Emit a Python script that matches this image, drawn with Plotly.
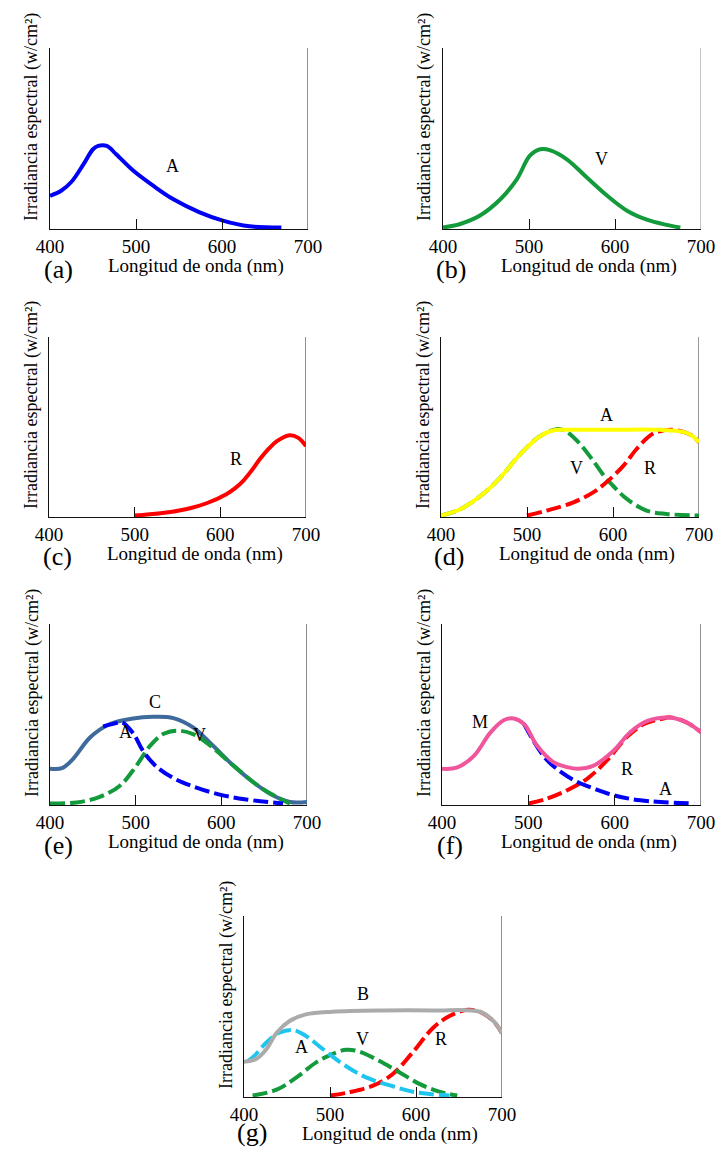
import plotly.graph_objects as go

# The page body has an 8px margin; the figure is sized and positioned so that
# reference pixel coordinates (p) map to figure pixels (p - OFF).
OFF = 8
W, H = 725 - OFF, 1149 - OFF
FONT = "Liberation Serif, Times New Roman, serif"

# ---------------- data (wavelength nm, relative irradiance) ----------------
tick_vals = [400, 500, 600, 700]
tick_text = ["400", "500", "600", "700"]
x_title = "Longitud de onda (nm)"
y_title = "Irradiancia espectral (w/cm²)"
panel_tags = ["(a)", "(b)", "(c)", "(d)", "(e)", "(f)", "(g)"]

# (a) azul
a_A_x = [400, 413, 425, 439, 450, 456, 466, 477, 497, 520, 543, 574, 601, 632, 669]
a_A_y = [0.177, 0.205, 0.255, 0.353, 0.436, 0.455, 0.455, 0.408, 0.316, 0.233, 0.159, 0.085, 0.039, 0.007, 0.0]

# (b) verde
b_V_x = [400, 420, 443, 467, 486, 501, 513, 525, 544, 567, 591, 614, 637, 660, 676]
b_V_y = [0.0, 0.02, 0.067, 0.159, 0.27, 0.40, 0.436, 0.43, 0.38, 0.28, 0.177, 0.094, 0.044, 0.015, 0.0]

# (c) rojo
c_R_x = [500, 530, 561, 584, 607, 617, 627, 637, 646, 656, 666, 681, 691, 700]
c_R_y = [0.0, 0.013, 0.037, 0.069, 0.12, 0.152, 0.196, 0.255, 0.315, 0.372, 0.417, 0.45, 0.435, 0.389]

# (d) amarillo = verde + rojo
d_A_x = [400, 423, 446, 469, 492, 515, 531, 546, 596, 654, 683, 693, 700]
d_A_y = [0.0, 0.037, 0.11, 0.213, 0.343, 0.444, 0.478, 0.48, 0.48, 0.48, 0.467, 0.444, 0.41]
d_V_x = [400, 423, 446, 469, 492, 515, 536, 546, 560, 575, 590, 600, 616, 639, 662, 700]
d_V_y = [0.0, 0.037, 0.11, 0.213, 0.343, 0.444, 0.485, 0.47, 0.41, 0.32, 0.22, 0.167, 0.093, 0.028, 0.009, 0.0]
d_R_x = [500, 523, 554, 577, 592, 612, 627, 643, 654, 670, 683, 693, 700]
d_R_y = [0.0, 0.028, 0.074, 0.13, 0.185, 0.278, 0.37, 0.448, 0.472, 0.48, 0.467, 0.444, 0.41]

# (e) cian = azul + verde
e_C_x = [400, 414, 427, 447, 470, 497, 520, 544, 567, 590, 614, 637, 660, 680, 700]
e_C_y = [0.194, 0.197, 0.249, 0.369, 0.443, 0.474, 0.483, 0.476, 0.424, 0.323, 0.212, 0.12, 0.046, 0.009, 0.009]
e_A_x = [462, 475, 484, 497, 509, 524, 544, 567, 598, 629, 672]
e_A_y = [0.43, 0.445, 0.452, 0.392, 0.29, 0.207, 0.142, 0.096, 0.05, 0.023, 0.0]
e_V_x = [400, 431, 458, 482, 501, 517, 532, 548, 567, 587, 614, 645, 668, 680]
e_V_y = [0.0, 0.006, 0.037, 0.101, 0.212, 0.323, 0.387, 0.406, 0.387, 0.323, 0.212, 0.092, 0.028, 0.0]

# (f) magenta = azul + rojo
f_M_x = [400, 417, 437, 456, 472, 483, 495, 510, 529, 545, 558, 576, 599, 618, 638, 665, 684, 700]
f_M_y = [0.194, 0.2, 0.266, 0.395, 0.465, 0.474, 0.443, 0.323, 0.231, 0.203, 0.194, 0.212, 0.295, 0.397, 0.46, 0.478, 0.45, 0.397]
f_A_x = [495, 510, 522, 538, 557, 576, 599, 630, 692]
f_A_y = [0.443, 0.318, 0.24, 0.175, 0.12, 0.083, 0.046, 0.018, 0.0]
f_R_x = [500, 522, 545, 568, 591, 614, 634, 653, 665, 684, 700]
f_R_y = [0.0, 0.028, 0.074, 0.138, 0.24, 0.37, 0.443, 0.47, 0.48, 0.45, 0.397]

# (g) blanco = azul + verde + rojo
g_B_x = [400, 414, 426, 438, 453, 472, 503, 562, 620, 674, 690, 700]
g_B_y = [0.188, 0.203, 0.258, 0.35, 0.415, 0.452, 0.467, 0.474, 0.474, 0.467, 0.415, 0.347]
g_A_x = [404, 412, 426, 441, 457, 472, 492, 515, 542, 573, 600, 639]
g_A_y = [0.19, 0.221, 0.295, 0.35, 0.365, 0.332, 0.258, 0.175, 0.101, 0.052, 0.018, 0.0]
g_V_x = [410, 438, 461, 484, 507, 519, 534, 557, 581, 604, 627, 648]
g_V_y = [0.0, 0.033, 0.101, 0.185, 0.24, 0.255, 0.245, 0.194, 0.129, 0.065, 0.022, 0.0]
g_R_x = [500, 522, 550, 573, 596, 620, 639, 660, 674, 690, 700]
g_R_y = [0.0, 0.018, 0.055, 0.12, 0.24, 0.378, 0.443, 0.478, 0.467, 0.415, 0.347]

# ---------------- styles ----------------
BLUE = "#0000F5"
GREEN = "#139A3B"
RED = "#FF0000"
YELLOW = "#FFFF00"
STEEL = "#3E6A9C"
PINK = "#F0569C"
CYAN = "#1FC4EF"
GRAY = "#ABABAB"
DASH = "15px,5px"

# panel boxes in reference pixels: left, right, top, bottom(baseline)
boxes = [
    (50, 308, 48, 229),
    (443, 701, 48, 229),
    (49, 306, 337, 517),
    (441, 699, 337, 517),
    (50, 307, 624, 805),
    (442, 701, 624, 805),
    (244, 502, 916, 1097),
]
right_line_colors = ["#222222", "#888888", "#222222", "#333333", "#8A8A8A", "#222222", "#222222"]
right_line_widths = [1, 1, 1, 1, 2, 1, 1]
tag_offsets = [40, 40, 40, 40, 40, 40, 35]

# traces per panel, in drawing order: (x, y, color, dashed)
panel_traces = [
    [(a_A_x, a_A_y, BLUE, False)],
    [(b_V_x, b_V_y, GREEN, False)],
    [(c_R_x, c_R_y, RED, False)],
    [(d_V_x, d_V_y, GREEN, True), (d_R_x, d_R_y, RED, True), (d_A_x, d_A_y, YELLOW, False)],
    [(e_C_x, e_C_y, STEEL, False), (e_V_x, e_V_y, GREEN, True), (e_A_x, e_A_y, BLUE, True)],
    [(f_R_x, f_R_y, RED, True), (f_A_x, f_A_y, BLUE, True), (f_M_x, f_M_y, PINK, False)],
    [(g_R_x, g_R_y, RED, True), (g_V_x, g_V_y, GREEN, True), (g_A_x, g_A_y, CYAN, True), (g_B_x, g_B_y, GRAY, False)],
]

# curve labels per panel: (text, wavelength, value)
panel_labels = [
    [("A", 543, 0.344)],
    [("V", 584, 0.38)],
    [("R", 618, 0.315)],
    [("A", 593, 0.565), ("V", 558, 0.269), ("R", 643, 0.269)],
    [("C", 522, 0.565), ("A", 488, 0.40), ("V", 575, 0.38)],
    [("M", 444, 0.454), ("R", 614, 0.194), ("A", 659, 0.083)],
    [("B", 538, 0.563), ("A", 467, 0.268), ("V", 538, 0.314), ("R", 629, 0.314)],
]

YMIN = -0.008


def fx(p):
    return (p - OFF) / W


def fy(p):
    return 1 - (p - OFF) / H


def paper_note(text, px, py, size, angle=0):
    return dict(
        text=text, x=fx(px), y=fy(py), xref="paper", yref="paper",
        xanchor="center", yanchor="middle", showarrow=False, textangle=angle,
        font=dict(family=FONT, size=size, color="black"),
    )


fig = go.Figure()
layout = dict(
    width=W, height=H, margin=dict(l=0, r=0, t=0, b=0, pad=0), autosize=False,
    paper_bgcolor="white", plot_bgcolor="white", showlegend=False,
    annotations=[], shapes=[],
)

for i, (box, traces, labels) in enumerate(zip(boxes, panel_traces, panel_labels)):
    n = i + 1
    xa = "xaxis" if n == 1 else f"xaxis{n}"
    ya = "yaxis" if n == 1 else f"yaxis{n}"
    xr = "x" if n == 1 else f"x{n}"
    yr = "y" if n == 1 else f"y{n}"
    l, r, t, b = box
    layout[xa] = dict(
        domain=[fx(l), fx(r)], range=[400, 700], anchor=yr, automargin=False,
        showline=True, linecolor="#111111", linewidth=1,
        ticks="inside", ticklen=10, tickwidth=1, tickcolor="#111111",
        tickvals=tick_vals, ticktext=tick_text,
        tickfont=dict(family=FONT, size=19, color="black"),
        ticklabelstandoff=0,
        showgrid=False, zeroline=False, fixedrange=True,
    )
    layout[ya] = dict(
        domain=[fy(b), fy(t)], range=[YMIN, 1], anchor=xr, automargin=False,
        showline=True, linecolor="#111111", linewidth=1,
        showticklabels=False, ticks="", showgrid=False, zeroline=False, fixedrange=True,
    )
    layout["shapes"].append(dict(
        type="line", xref=xr, yref=yr, x0=700, x1=700, y0=YMIN, y1=1,
        line=dict(color=right_line_colors[i], width=right_line_widths[i]), layer="below",
    ))
    for (xs, ys, col, dashed) in traces:
        fig.add_trace(go.Scatter(
            x=xs, y=ys, mode="lines", xaxis=xr, yaxis=yr,
            line=dict(color=col, width=4, shape="spline", smoothing=1.0,
                      dash=DASH if dashed else "solid"),
            hoverinfo="skip",
        ))
    for (txt, lx, ly) in labels:
        layout["annotations"].append(dict(
            text=txt, x=lx, y=ly, xref=xr, yref=yr, showarrow=False,
            xanchor="center", yanchor="middle",
            font=dict(family=FONT, size=18, color="black"),
        ))
    layout["annotations"].append(paper_note(x_title, (l + r) / 2 + 17, b + 37, 19))
    layout["annotations"].append(paper_note(y_title, l - 18, b - 112, 18, angle=-90))
    layout["annotations"].append(paper_note(panel_tags[i], l + 8, b + tag_offsets[i], 26))

fig.update_layout(**layout)
fig.write_html("out.html")
